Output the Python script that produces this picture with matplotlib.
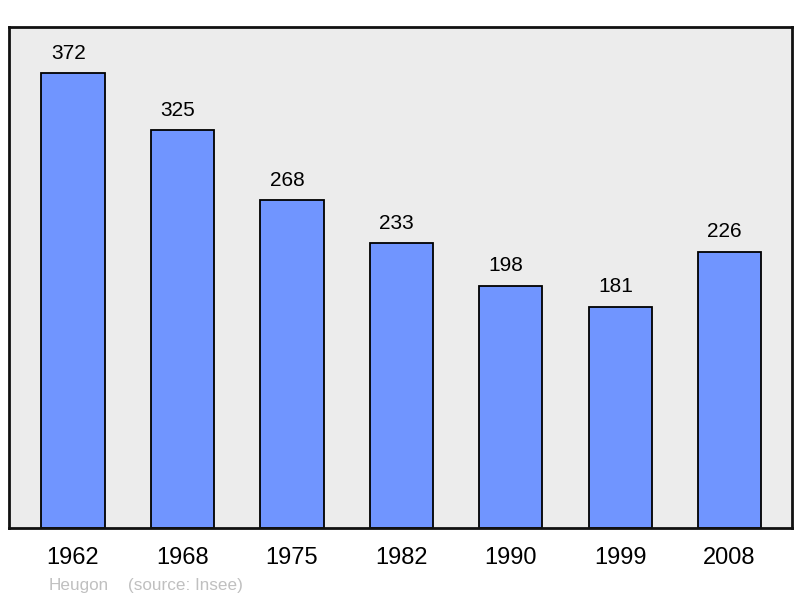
import matplotlib
matplotlib.use("Agg")
import matplotlib.pyplot as plt

years = ["1962", "1968", "1975", "1982", "1990", "1999", "2008"]
population = [372, 325, 268, 233, 198, 181, 226]
commune = "Heugon"
source = "(source: Insee)"

plt.rcParams['font.family'] = ['Liberation Sans', 'DejaVu Sans']

fig = plt.figure(figsize=(8, 5.98), dpi=100)
ax = fig.add_axes([9/800, 1 - 528/598, (792-9)/800, (528-27)/598])
ax.set_facecolor('#ececec')

x = list(range(len(years)))
bars = ax.bar(x, population, width=0.578, color='#7095ff', edgecolor='#000000', linewidth=1.3, zorder=3)
for xi, v in zip(x, population):
    ax.annotate(str(v), (xi, v), xytext=(-3.5, 7.5), textcoords='offset points',
                ha='center', va='bottom', fontsize=15, color='#000000')

ax.set_xlim(-0.585, 6.57)
ax.set_ylim(0, 409.6)
ax.set_xticks(x)
ax.set_xticklabels(years, fontsize=17)
ax.tick_params(axis='x', length=0, pad=14)
ax.set_yticks([])
for s in ax.spines.values():
    s.set_linewidth(2)
    s.set_color('#111111')
    s.set_zorder(5)

fig.text(49/800, 1 - 590/598, commune, fontsize=12.3, color='#c0c0c0', ha='left', va='baseline')
fig.text(128/800, 1 - 590/598, source, fontsize=12.3, color='#c0c0c0', ha='left', va='baseline')

fig.savefig('out.png', dpi=100)
